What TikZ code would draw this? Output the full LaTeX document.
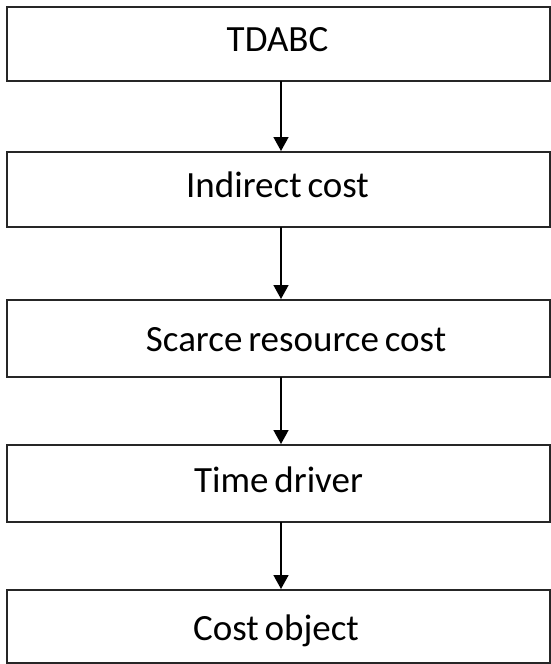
\documentclass[tikz,border=0pt]{standalone}
\usepackage{fontspec}
\setmainfont[WordSpace=0.7]{Carlito}
\usetikzlibrary{arrows.meta}
\begin{document}
\begin{tikzpicture}[x=1pt,y=-1pt,
  stagebox/.style={draw=black!85, line width=2.2pt, fill=white},
  flowarrow/.style={draw=black, line width=1.6pt, -{Triangle[width=15pt,length=14pt]}},
  lbl/.style={font=\fontsize{37}{41}\selectfont, text=black, anchor=base, inner sep=0pt}]
\useasboundingbox (0,0) rectangle (551,664);
\draw[stagebox] (7,7) rectangle (550,81);
\draw[stagebox] (7,152) rectangle (550,227);
\draw[stagebox] (7,300) rectangle (550,377);
\draw[stagebox] (7,445) rectangle (550,522);
\draw[stagebox] (7,590) rectangle (550,663);
\node[lbl] (a) at (277.5,51) {TDABC};
\node[lbl] (b) at (277.5,197) {Indirect cost};
\node[lbl] (c) at (296,351) {Scarce resource cost};
\node[lbl] (d) at (278.5,492) {Time driver};
\node[lbl] (e) at (276,640) {Cost object};
\coordinate (a1) at (281,81); \coordinate (b0) at (281,151);
\coordinate (b1) at (281,227); \coordinate (c0) at (281,299);
\coordinate (c1) at (281,377); \coordinate (d0) at (281,444);
\coordinate (d1) at (281,522); \coordinate (e0) at (281,589);
\draw[flowarrow] (a1) -- (b0);
\draw[flowarrow] (b1) -- (c0);
\draw[flowarrow] (c1) -- (d0);
\draw[flowarrow] (d1) -- (e0);
\end{tikzpicture}
\end{document}
